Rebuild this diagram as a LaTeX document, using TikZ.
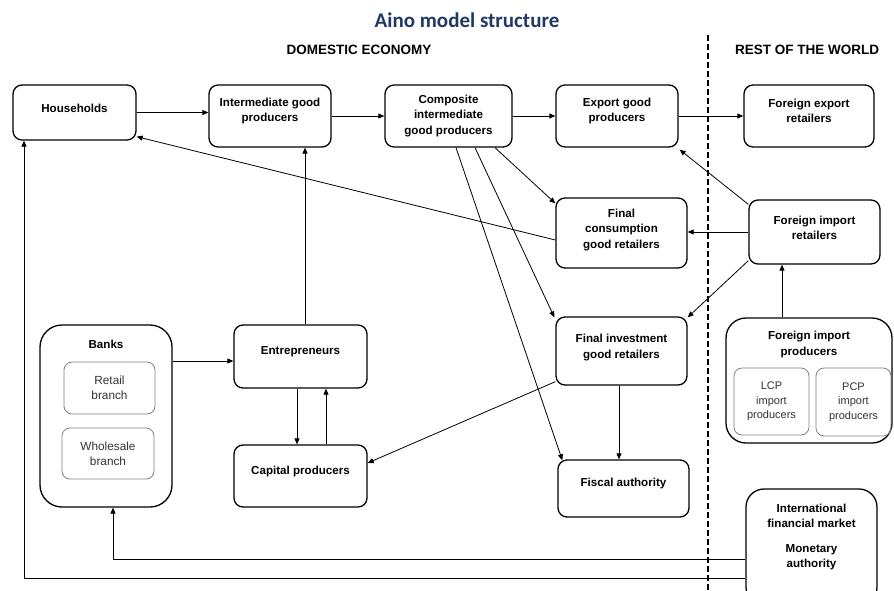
\documentclass[tikz,border=0pt]{standalone}
\usepackage{fontspec}
\setmainfont{Liberation Sans}
\newfontfamily\titlefont{Carlito}
\usetikzlibrary{arrows.meta,calc}
\definecolor{titleblue}{HTML}{1F3864}
\definecolor{innergray}{HTML}{808080}
\definecolor{innertext}{HTML}{333333}
\begin{document}
\begin{tikzpicture}[x=1pt,y=-1pt,
  box/.style={draw, line width=1.3pt, rounded corners=9pt, align=center,
    font=\fontsize{11.6}{15.5}\selectfont\bfseries, inner sep=2pt},
  innerbox/.style={draw=innergray, line width=0.8pt, rounded corners=8pt, align=center,
    font=\fontsize{11.8}{15}\selectfont, text=innertext, inner sep=2pt},
  smallinner/.style={innerbox, font=\fontsize{11}{14.5}\selectfont},
  lbl/.style={align=center, font=\fontsize{11.6}{15.5}\selectfont\bfseries, inner sep=0pt},
  arr/.style={-{Triangle[length=6pt,width=5pt]}, line width=0.8pt},
  divider/.style={line width=2pt, dash pattern=on 6pt off 3pt},
  heading/.style={font=\fontsize{13.5}{16}\selectfont\bfseries, inner sep=0pt}]
\clip (0,0) rectangle (894,590);
\fill[white] (0,0) rectangle (894,590);

% title and headings
\node[font=\titlefont\fontsize{21}{24}\selectfont\bfseries, text=titleblue, inner sep=0pt] (title) at (467,20) {Aino model structure};
\node[heading] (dom) at (359,50) {DOMESTIC ECONOMY};
\node[heading] (row) at (807,50) {REST OF THE WORLD};

% divider
\coordinate (dtop) at (708,35);
\coordinate (dbot) at (708,592);
\draw[divider] (dtop) -- (dbot);

% top row
\node[box, text depth=9pt, minimum width=123pt, minimum height=55pt] (hh) at (74.5,112.5) {Households};
\node[box, text depth=12pt, minimum width=122pt, minimum height=62pt] (igp) at (270,116) {Intermediate good\\producers};
\node[box, minimum width=127pt, minimum height=62pt] (cigp) at (448.5,116) {Composite\\intermediate\\good producers};
\node[box, text depth=12pt, minimum width=122pt, minimum height=62pt] (egp) at (617,116) {Export good\\producers};
\node[box, text depth=10pt, minimum width=130pt, minimum height=62pt] (fer) at (809,116) {Foreign export\\retailers};

% middle
\node[box, text depth=8.5pt, minimum width=131pt, minimum height=70pt] (fcgr) at (621.5,233) {Final\\consumption\\good retailers};
\node[box, text depth=8pt, minimum width=131pt, minimum height=64pt] (fir) at (814.5,232) {Foreign import\\retailers};

% banks
\node[box, minimum width=132pt, minimum height=182pt, rounded corners=22pt] (banks) at (106,416) {};
\node[lbl] (bankslbl) at (106,344) {Banks};
\node[innerbox, minimum width=91pt, minimum height=52pt] (retail) at (109.5,388) {Retail\\branch};
\node[innerbox, minimum width=92pt, minimum height=51pt] (whole) at (108,453.5) {Wholesale\\branch};

\node[box, text depth=11.5pt, minimum width=133pt, minimum height=63pt] (ent) at (300.5,356.5) {Entrepreneurs};
\node[box, text depth=10.5pt, minimum width=133pt, minimum height=62pt] (cap) at (300.5,476) {Capital producers};
\node[box, text depth=9.5pt, minimum width=131pt, minimum height=68pt] (figr) at (621.5,351) {Final investment\\good retailers};
\node[box, text depth=12pt, minimum width=131pt, minimum height=57pt] (fiscal) at (623.5,488.5) {Fiscal authority};

% foreign import producers
\node[box, minimum width=166pt, minimum height=125pt, rounded corners=20pt] (fip) at (809,380.5) {};
\node[lbl] (fiplbl) at (809,344.5) {Foreign import\\producers};
\node[smallinner, minimum width=75pt, minimum height=67pt] (lcp) at (771.5,401.5) {LCP\\import\\producers};
\node[smallinner, minimum width=75pt, minimum height=68pt] (pcp) at (853.5,402) {PCP\\import\\producers};

% international financial market
\node[box, minimum width=131pt, minimum height=116pt, rounded corners=18pt] (ifm) at (811.5,547) {};
\node[lbl] (ifmlbl) at (811.5,537) {International\\financial market\\[9pt]Monetary\\authority};

% connectors: top row
\draw[arr] (hh.east) -- (hh.east -| igp.west);
\draw[arr] (igp.east) -- (cigp.west);
\draw[arr] (cigp.east) -- (egp.west);
\draw[arr] (egp.east) -- (fer.west);

% from composite
\draw[arr] ([xshift=46.5pt]cigp.south) -- ([yshift=-6pt]fcgr.north west);
\draw[arr] ([xshift=26.5pt]cigp.south) -- ([xshift=-1pt,yshift=-1pt]figr.north west);
\draw[arr] ([xshift=7.5pt]cigp.south) -- ([xshift=5pt,yshift=-1pt]fiscal.north west);

% final consumption to households
\draw[arr] ([yshift=-7pt]fcgr.west) -- ([yshift=4pt]hh.south east);

% foreign import retailers
\draw[arr] ([yshift=-5pt]fir.north west) -- ([xshift=1pt,yshift=-2pt]egp.south east);
\draw[arr] (fir.west) -- (fir.west -| fcgr.east);
\draw[arr] ([yshift=4pt]fir.south west) -- ([yshift=-1pt]figr.north east);
\draw[arr] ([xshift=-27pt]fip.north) -- ([xshift=-32.5pt]fir.south);

% entrepreneurs, banks, capital
\draw[arr] ([xshift=4.5pt]ent.north) -- ([xshift=35pt]igp.south);
\coordinate (be) at ([yshift=-4.5pt]ent.west);
\draw[arr] (be -| banks.east) -- (be);
\draw[arr] ([xshift=-3.5pt]ent.south) -- ([xshift=-3.5pt]cap.north);
\draw[arr] ([xshift=25.5pt]cap.north) -- ([xshift=25.5pt]ent.south);
\draw[arr] ([yshift=4pt]figr.south west) -- ([yshift=13pt]cap.east);
\draw[arr] ([xshift=-2.5pt]figr.south) -- ([xshift=-4.5pt]fiscal.north);

% international financial market to banks and households
\coordinate (l1) at ([yshift=-12pt]ifm.west);
\coordinate (l2) at ([yshift=-31pt]ifm.west);
\draw[arr] (l1) -| ([xshift=7pt]banks.south);
\draw[arr] (l2) -| ([xshift=-50.5pt]hh.south);
\end{tikzpicture}
\end{document}
